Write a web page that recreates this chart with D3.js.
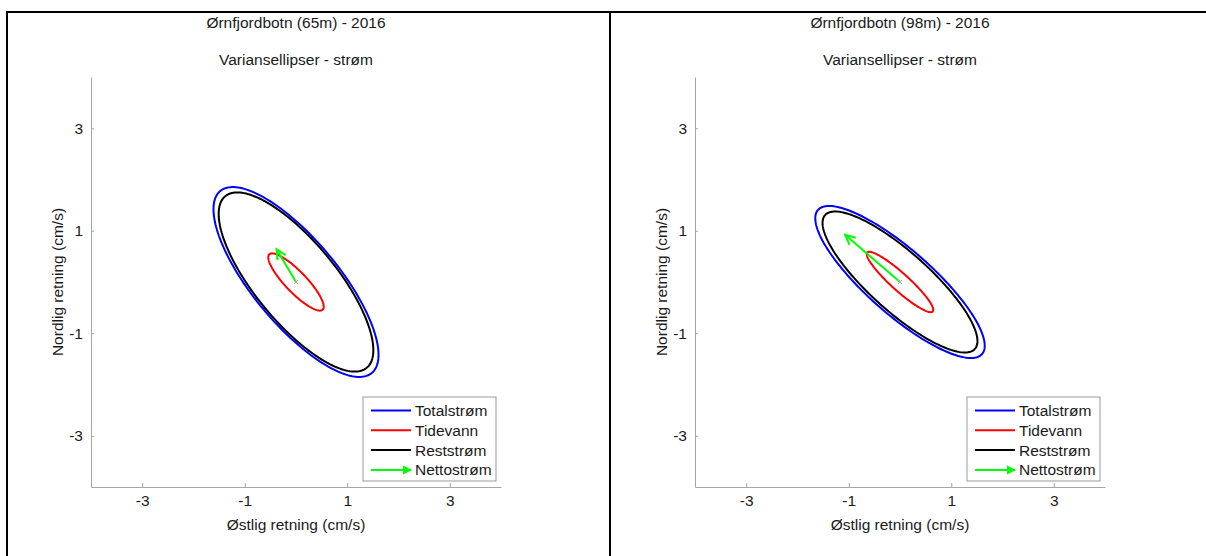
<!DOCTYPE html>
<meta charset="utf-8">
<style>
body { margin: 0; background: #fff; }
svg { display: block; font-family: "Liberation Sans", Arial, sans-serif; }
.frame { stroke: #000; stroke-width: 2px; fill: none; }
.axis path, .axis line { stroke: #a6a6a6; }
.axis text { fill: #1a1a1a; font-size: 15.5px; }
.lbl { fill: #1a1a1a; font-size: 15.5px; }
.ell { fill: none; stroke-width: 2px; }
</style>
<svg></svg>
<script src="https://cdn.jsdelivr.net/npm/d3@7"></script>
<script>

var width = 1206,
    height = 556;

// panel titles
var titles = ["Ørnfjordbotn (65m) - 2016", "Ørnfjordbotn (98m) - 2016"];
var subtitle = "Variansellipser - strøm";

// series: Totalstrøm, Tidevann, Reststrøm (ellipses) + Nettostrøm (arrow)
var names = ["Totalstrøm", "Tidevann", "Reststrøm", "Nettostrøm"];
var colors = ["#0000ff", "#ff0000", "#000000", "#00ff00"];

// ellipse semi-axes (cm/s) and orientation (deg from east), per panel
var semiMajor = [[2.31, 0.75, 2.17], [2.13, 0.86, 1.96]];
var semiMinor = [[0.83, 0.205, 0.79], [0.63, 0.17, 0.58]];
var angleDeg = [[-50.2, -46.1, -50.5], [-41.3, -42.0, -41.8]];

// net current vector (east, north)
var netU = [-0.38, -1.07];
var netV = [0.64, 0.92];

var ticks = [-3, -1, 1, 3];
var domain = [-4, 4];

var panelX = [91, 695],
    axTop = 77,
    axSize = 410;

var svg = d3.select("svg")
    .attr("width", width)
    .attr("height", height);

svg.append("rect").attr("width", width).attr("height", height).attr("fill", "#fff");

// outer table frame
svg.append("path").attr("class", "frame")
    .attr("d", "M7,556V12H1206M610,12V556");

var x = d3.scaleLinear().domain(domain).range([0, axSize]);
var y = d3.scaleLinear().domain(domain).range([axSize, 0]);

var line = d3.line()
    .x(function(d) { return x(d[0]); })
    .y(function(d) { return y(d[1]); });

function ellipse(a, b, deg) {
  var t = deg * Math.PI / 180, pts = [];
  for (var i = 0; i <= 180; i++) {
    var p = i / 180 * 2 * Math.PI,
        ex = a * Math.cos(p), ey = b * Math.sin(p);
    pts.push([ex * Math.cos(t) - ey * Math.sin(t), ex * Math.sin(t) + ey * Math.cos(t)]);
  }
  return pts;
}

function arrowHead(g, x0, y0, x1, y1, len, color) {
  var ang = Math.atan2(y1 - y0, x1 - x0), s = 0.45;
  g.append("path")
      .attr("d", "M" + (x1 - len * Math.cos(ang - s)) + "," + (y1 - len * Math.sin(ang - s)) +
        "L" + x1 + "," + y1 +
        "L" + (x1 - len * Math.cos(ang + s)) + "," + (y1 - len * Math.sin(ang + s)))
      .attr("fill", "none")
      .attr("stroke", color)
      .attr("stroke-width", 2)
      .attr("stroke-linejoin", "miter");
}

titles.forEach(function(title, k) {
  var g = svg.append("g").attr("transform", "translate(" + panelX[k] + "," + axTop + ")");

  g.append("text").attr("class", "lbl")
      .attr("x", x(0)).attr("y", -49)
      .attr("text-anchor", "middle")
      .text(title);
  g.append("text").attr("class", "lbl")
      .attr("x", x(0)).attr("y", -12)
      .attr("text-anchor", "middle")
      .text(subtitle);

  g.append("g").attr("class", "axis")
      .attr("transform", "translate(0," + axSize + ")")
      .call(d3.axisBottom(x).tickValues(ticks).tickFormat(String)
        .tickSizeInner(-4).tickSizeOuter(0).tickPadding(8))
      .call(function(s) { s.selectAll("text").attr("dy", "0.71em"); });

  g.append("g").attr("class", "axis")
      .call(d3.axisLeft(y).tickValues(ticks).tickFormat(String)
        .tickSizeInner(-3).tickSizeOuter(0).tickPadding(8));

  g.append("text").attr("class", "lbl")
      .attr("x", x(0)).attr("y", axSize + 43)
      .attr("text-anchor", "middle")
      .text("Østlig retning (cm/s)");

  g.append("text").attr("class", "lbl")
      .attr("transform", "translate(-28," + y(0) + ") rotate(-90)")
      .attr("text-anchor", "middle")
      .text("Nordlig retning (cm/s)");

  // ellipses
  [0, 1, 2].forEach(function(i) {
    g.append("path").attr("class", "ell")
        .attr("stroke", colors[i])
        .attr("d", line(ellipse(semiMajor[k][i], semiMinor[k][i], angleDeg[k][i])));
  });

  // net current arrow
  g.append("line")
      .attr("x1", x(0)).attr("y1", y(0))
      .attr("x2", x(netU[k])).attr("y2", y(netV[k]))
      .attr("stroke", colors[3]).attr("stroke-width", 2);
  arrowHead(g, x(0), y(0), x(netU[k]), y(netV[k]), 11, colors[3]);

  // origin marker
  g.append("path")
      .attr("d", "M" + (x(0) - 2) + "," + (y(0) - 2) + "l4,4m0,-4l-4,4")
      .attr("stroke", "#aaa").attr("stroke-width", 1);

  // legend
  var lg = g.append("g").attr("transform", "translate(" + (axSize - 138) + "," + (axSize - 90) + ")");
  lg.append("rect")
      .attr("width", 133).attr("height", 84)
      .attr("fill", "#fff").attr("stroke", "#999").attr("stroke-width", 1);
  names.forEach(function(n, i) {
    var ry = 13.5 + i * 19.8;
    lg.append("line")
        .attr("x1", 8).attr("x2", 48)
        .attr("y1", ry).attr("y2", ry)
        .attr("stroke", colors[i]).attr("stroke-width", 2);
    if (i === 3) {
      lg.append("path")
          .attr("d", "M49," + ry + "l-9,-4.5v9z")
          .attr("fill", colors[i]);
    }
    lg.append("text").attr("class", "lbl")
        .attr("x", 52).attr("y", ry + 5.5)
        .text(n);
  });
});

</script>
